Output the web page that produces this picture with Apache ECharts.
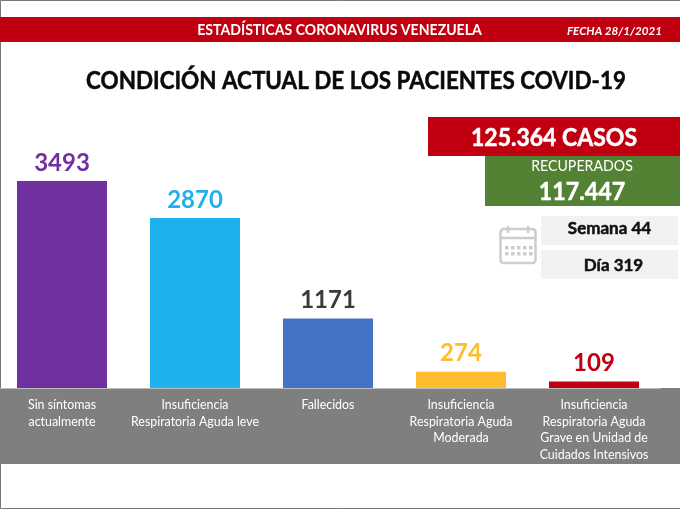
<!DOCTYPE html>
<html>
<head>
<meta charset="utf-8">
<style>
html, body { margin: 0; padding: 0; background: #fff; }
#box1 { width: 680px; height: 510px; }
</style>
<script src="https://cdn.jsdelivr.net/npm/echarts@6/dist/echarts.min.js"></script>
</head>
<body>
<div id="box1"></div>
<script>
var categories = [
    'Sin síntomas\nactualmente',
    'Insuficiencia\nRespiratoria Aguda leve',
    'Fallecidos',
    'Insuficiencia\nRespiratoria Aguda\nModerada',
    'Insuficiencia\nRespiratoria Aguda\nGrave en Unidad de\nCuidados Intensivos'
];
var values = [3493, 2870, 1171, 274, 109];
var barColors = ['#7030a0', '#1eb1ee', '#4472c4', '#ffbd2e', '#c00010'];
var labelColors = ['#7030a0', '#1eb1ee', '#3a3a3a', '#ffbd2e', '#c00010'];

var font = 'Lato';
var myChart = echarts.init(document.getElementById('box1'));

function box(x, y, w, h, color) {
    return { type: 'rect', z: -1, shape: { x: x, y: y, width: w, height: h }, style: { fill: color } };
}
// squeeze narrows Lato a bit, the original is set in a tighter face
function text(x, y, str, size, color, weight, squeeze, style) {
    return {
        type: 'text', x: x, y: y, scaleX: squeeze || 1,
        style: {
            text: str, fill: color, align: 'center', verticalAlign: 'middle',
            stroke: weight === 'bold' ? color : 'none',
            lineWidth: 0.5,
            font: (style || 'normal') + ' ' + weight + ' ' + size + 'px ' + font
        }
    };
}
function line(x1, y1, x2, y2) {
    return {
        type: 'line', shape: { x1: x1, y1: y1, x2: x2, y2: y2 },
        style: { stroke: '#cdcdcd', lineWidth: 2.5 }
    };
}

var calendar = [
    { type: 'rect', shape: { x: 500.5, y: 229, width: 35, height: 34, r: 3 }, style: { fill: 'none', stroke: '#cdcdcd', lineWidth: 2.5 } },
    line(500, 238, 536, 238),
    line(508, 226, 508, 233),
    line(528, 226, 528, 233)
];
[0, 1, 2, 3, 4].forEach(function (i) {
    [0, 1].forEach(function (j) {
        calendar.push(box(505 + i * 6, 246 + j * 6, 3.5, 3.5, '#cdcdcd'));
    });
});

var graphic = [
    { type: 'rect', z: -2, shape: { x: 0.5, y: 0.5, width: 690, height: 508 }, style: { fill: 'none', stroke: '#777', lineWidth: 1 } },
    box(0, 17, 680, 25, '#c00010'),
    box(0, 388, 680, 76, '#7f7f7f'),
    box(428, 117, 252, 39, '#c00010'),
    box(485, 156, 195, 50, '#548235'),
    box(541, 216, 137, 29, '#f2f2f2'),
    box(541, 250, 137, 29, '#f2f2f2'),
    text(339.5, 30, 'ESTADÍSTICAS CORONAVIRUS VENEZUELA', 16, '#fff', '700', 0.88),
    text(614.5, 31, 'FECHA 28/1/2021', 12, '#fff', '700', 0.97, 'italic'),
    text(356, 81, 'CONDICIÓN ACTUAL DE LOS PACIENTES COVID-19', 25, '#0a0a0a', 'bold', 0.897),
    text(554, 138, '125.364 CASOS', 25, '#fff', 'bold', 0.92),
    text(582, 166, 'RECUPERADOS', 15, '#fff', 'normal', 0.945),
    text(582, 192, '117.447', 25, '#fff', 'bold', 0.93),
    text(609.5, 229, 'Semana 44', 17, '#111', 'bold'),
    text(613.5, 266, 'Día 319', 17, '#111', 'bold')
].concat(calendar);

var option = {
    animation: false,
    grid: { left: -4.5, top: 100, width: 665, height: 288, outerBoundsMode: 'none' },
    graphic: graphic,
    xAxis: {
        type: 'category',
        data: categories,
        axisTick: { show: false },
        axisLine: { lineStyle: { color: '#bbb', width: 1 } },
        axisLabel: {
            interval: 0,
            margin: 9,
            color: '#fff',
            fontFamily: font,
            fontSize: 12.4,
            lineHeight: 16.5
        }
    },
    yAxis: { type: 'value', min: 0, max: 4860, show: false, splitLine: { show: false } },
    series: [
        {
            type: 'bar',
            barWidth: 90,
            data: values.map(function (v, i) {
                return {
                    value: v,
                    itemStyle: { color: barColors[i] },
                    label: { color: labelColors[i] }
                };
            }),
            label: {
                show: true,
                position: 'top',
                distance: 6,
                fontFamily: font,
                fontWeight: 'bold',
                fontSize: 24
            }
        }
    ]
};
myChart.setOption(option);
</script>
</body>
</html>
